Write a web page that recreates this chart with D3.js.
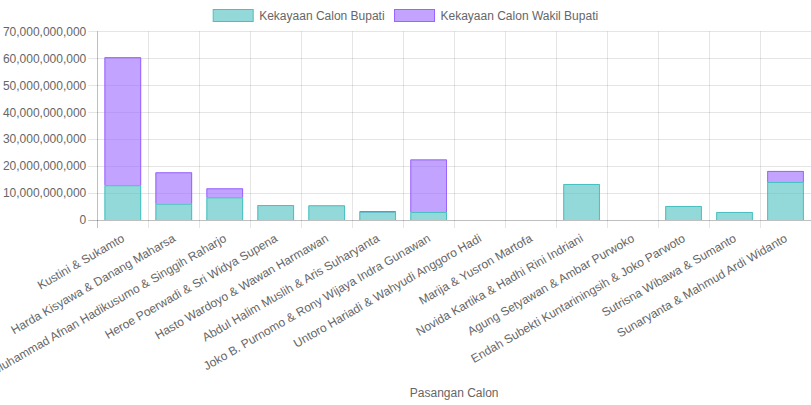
<!DOCTYPE html>
<html><head><meta charset="utf-8">
<script src="https://cdn.jsdelivr.net/npm/d3@7"></script>
<style>body{margin:0;background:#fff}svg{display:block;font-family:"Liberation Sans",Arial,Helvetica,sans-serif}</style>
</head><body><svg id="c" width="811" height="405"></svg>
<script>
const categories = ["Kustini & Sukamto","Harda Kisyawa & Danang Maharsa","Muhammad Afnan Hadikusumo & Singgih Raharjo","Heroe Poerwadi & Sri Widya Supena","Hasto Wardoyo & Wawan Harmawan","Abdul Halim Muslih & Aris Suharyanta","Joko B. Purnomo & Rony Wijaya Indra Gunawan","Untoro Hariadi & Wahyudi Anggoro Hadi","Marija & Yusron Martofa","Novida Kartika & Hadhi Rini Indriani","Agung Setyawan & Ambar Purwoko","Endah Subekti Kuntariningsih & Joko Parwoto","Sutrisna Wibawa & Sumanto","Sunaryanta & Mahmud Ardi Widanto"];
const bupati = [12900000000,6050000000,8400000000,5550000000,5450000000,3100000000,2970000000,0,0,13350000000,0,5200000000,2970000000,14100000000];
const wakil = [47500000000,11650000000,3350000000,0,0,200000000,19500000000,0,0,0,0,0,0,4100000000];
const seriesNames = ["Kekayaan Calon Bupati","Kekayaan Calon Wakil Bupati"];
const yTicks = [0,10000000000,20000000000,30000000000,40000000000,50000000000,60000000000,70000000000];
const xTitle = "Pasangan Calon";

const svg = d3.select("#c");
const L = 97.3, R = 811, T = 31.3, B = 220;
const fills = ["rgba(75,192,192,0.6)","rgba(153,102,255,0.6)"];
const strokes = ["rgb(75,192,192)","rgb(153,102,255)"];
const textColor = "#666";

const x = d3.scaleBand().domain(categories).range([L, R]).paddingInner(0).paddingOuter(0);
const y = d3.scaleLinear().domain([0, 70000000000]).range([B, T]);

// grid
const g = svg.append("g");
yTicks.forEach(t => {
  g.append("line").attr("x1", L - 9).attr("x2", R).attr("y1", Math.round(y(t)) + 0.5).attr("y2", Math.round(y(t)) + 0.5)
    .attr("stroke", t === 0 ? "rgba(0,0,0,0.25)" : "rgba(0,0,0,0.1)");
});
const vlines = categories.map(c => x(c)).concat([R]);
vlines.forEach((vx, i) => {
  g.append("line").attr("x1", Math.round(vx) + 0.5).attr("x2", Math.round(vx) + 0.5).attr("y1", T).attr("y2", B + 8)
    .attr("stroke", i === 0 ? "rgba(0,0,0,0.25)" : "rgba(0,0,0,0.1)");
});

// y labels
const yAxis = d3.axisLeft(y).tickValues(yTicks).tickFormat(d3.format(",")).tickSize(0).tickPadding(0);
const ya = svg.append("g").attr("transform", `translate(${L - 11},0)`).call(yAxis);
ya.select(".domain").remove();
ya.selectAll("text").attr("fill", textColor).attr("font-size", 12).attr("font-family", "Liberation Sans, Arial, sans-serif");

// bars
const bw = x.bandwidth() * 0.72;
const stack = d3.stack().keys([0, 1]).value((d, k) => d[k]);
const rows = categories.map((c, i) => [bupati[i], wakil[i]]);
const layers = stack(rows);
layers.forEach((layer, si) => {
  layer.forEach((seg, i) => {
    if (seg[1] - seg[0] <= 0) return;
    const cx = x(categories[i]) + x.bandwidth() / 2;
    const x0 = cx - bw / 2, x1 = cx + bw / 2;
    const y0 = y(seg[0]), y1 = y(seg[1]);
    svg.append("rect").attr("x", x0).attr("y", y1).attr("width", bw).attr("height", y0 - y1).attr("fill", fills[si]);
    svg.append("path").attr("d", `M${x0 + 0.5},${y0}L${x0 + 0.5},${y1 + 0.5}L${x1 - 0.5},${y1 + 0.5}L${x1 - 0.5},${y0}`)
      .attr("fill", "none").attr("stroke", strokes[si]).attr("stroke-width", 1);
  });
});

// x labels
categories.forEach(c => {
  const cx = x(c) + x.bandwidth() / 2;
  svg.append("text").attr("transform", `translate(${cx + 1},${B + 18}) rotate(-30)`)
    .attr("text-anchor", "end").attr("dominant-baseline", "middle")
    .attr("fill", textColor).attr("font-size", 12).text(c);
});

svg.append("text").attr("x", (L + R) / 2).attr("y", 397).attr("text-anchor", "middle")
  .attr("fill", textColor).attr("font-size", 12).text(xTitle);

// legend
const lx = [212.7, 394];
seriesNames.forEach((n, i) => {
  svg.append("rect").attr("x", lx[i] + 0.5).attr("y", 9.5).attr("width", 40).attr("height", 12)
    .attr("fill", fills[i]).attr("stroke", strokes[i]).attr("stroke-width", 1);
  svg.append("text").attr("x", lx[i] + 46.5).attr("y", 20).attr("fill", textColor).attr("font-size", 12).text(n);
});
</script></body></html>
